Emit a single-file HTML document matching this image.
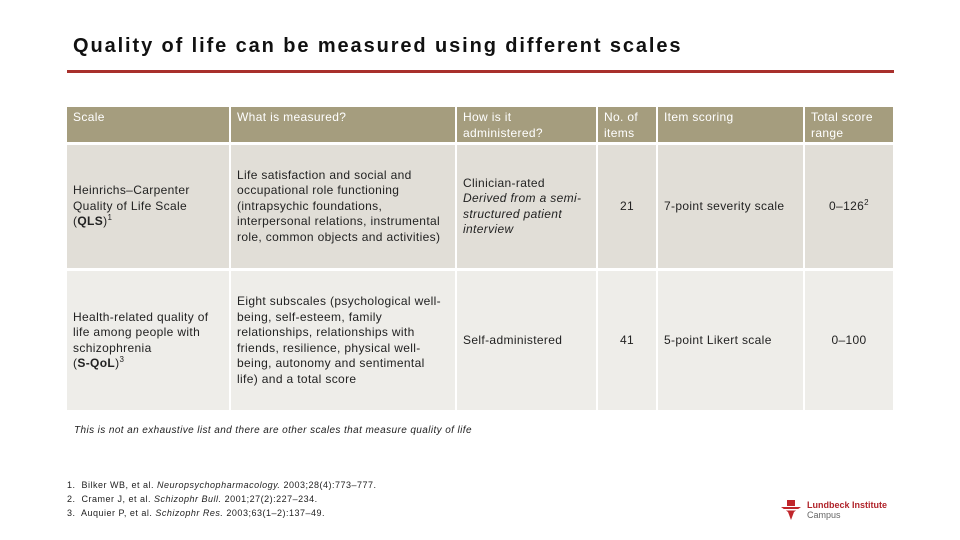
<!DOCTYPE html>
<html><head><meta charset="utf-8"><style>
body{margin:0;width:960px;height:540px;background:#fff;font-family:"Liberation Sans",sans-serif;position:relative;overflow:hidden;color:#222}
.c{position:absolute;box-sizing:border-box;padding:0 6px;font-size:12px;line-height:15.5px;display:flex;align-items:center;letter-spacing:0.35px;white-space:nowrap}
.h{background:#a59d7e;color:#fff;align-items:flex-start;padding-top:3px}
.r1{background:#e1ded7}
.r2{background:#eeede9}
.ctr{justify-content:center;text-align:center}
.fn{position:absolute;left:67px;font-size:9px;color:#222;letter-spacing:0.5px}
sup{font-size:8px;line-height:0}
</style></head><body>
<div style="position:absolute;left:73px;top:35px;font-size:20px;font-weight:bold;letter-spacing:1.9px;color:#111">Quality of life can be measured using different scales</div>
<div style="position:absolute;left:67px;top:70px;width:827px;height:3px;background:#a8302c"></div>
<div>
<div class="c h" style="left:67px;top:107px;width:162px;height:35px">Scale</div>
<div class="c h" style="left:231px;top:107px;width:224px;height:35px">What is measured?</div>
<div class="c h" style="left:457px;top:107px;width:139px;height:35px">How is it<br>administered?</div>
<div class="c h" style="left:598px;top:107px;width:58px;height:35px">No. of<br>items</div>
<div class="c h" style="left:658px;top:107px;width:145px;height:35px">Item scoring</div>
<div class="c h" style="left:805px;top:107px;width:88px;height:35px">Total score<br>range</div>

<div class="c r1" style="left:67px;top:145px;width:162px;height:123px"><div>Heinrichs–Carpenter<br>Quality of Life Scale<br>(<b>QLS</b>)<sup>1</sup></div></div>
<div class="c r1" style="left:231px;top:145px;width:224px;height:123px"><div>Life satisfaction and social and<br>occupational role functioning<br>(intrapsychic foundations,<br>interpersonal relations, instrumental<br>role, common objects and activities)</div></div>
<div class="c r1" style="left:457px;top:145px;width:139px;height:123px"><div>Clinician-rated<br><i>Derived from a semi-<br>structured patient<br>interview</i></div></div>
<div class="c r1 ctr" style="left:598px;top:145px;width:58px;height:123px">21</div>
<div class="c r1" style="left:658px;top:145px;width:145px;height:123px">7-point severity scale</div>
<div class="c r1 ctr" style="left:805px;top:145px;width:88px;height:123px"><div>0–126<sup>2</sup></div></div>

<div class="c r2" style="left:67px;top:271px;width:162px;height:139px"><div>Health-related quality of<br>life among people with<br>schizophrenia<br>(<b>S-QoL</b>)<sup>3</sup></div></div>
<div class="c r2" style="left:231px;top:271px;width:224px;height:139px"><div>Eight subscales (psychological well-<br>being, self-esteem, family<br>relationships, relationships with<br>friends, resilience, physical well-<br>being, autonomy and sentimental<br>life) and a total score</div></div>
<div class="c r2" style="left:457px;top:271px;width:139px;height:139px">Self-administered</div>
<div class="c r2 ctr" style="left:598px;top:271px;width:58px;height:139px">41</div>
<div class="c r2" style="left:658px;top:271px;width:145px;height:139px">5-point Likert scale</div>
<div class="c r2 ctr" style="left:805px;top:271px;width:88px;height:139px">0–100</div>
</div>
<div style="position:absolute;left:74px;top:425px;font-size:10px;font-style:italic;letter-spacing:0.4px">This is not an exhaustive list and there are other scales that measure quality of life</div>
<div class="fn" style="top:480px">1.&nbsp; Bilker WB, et al. <i>Neuropsychopharmacology.</i> 2003;28(4):773–777.</div>
<div class="fn" style="top:494px">2.&nbsp; Cramer J, et al. <i>Schizophr Bull.</i> 2001;27(2):227–234.</div>
<div class="fn" style="top:508px">3.&nbsp; Auquier P, et al. <i>Schizophr Res.</i> 2003;63(1–2):137–49.</div>
<div style="position:absolute;left:780px;top:499px">
<svg width="22" height="22" viewBox="0 0 22 22" style="position:absolute;left:0;top:0"><rect x="7" y="1" width="8" height="6" fill="#c0262b"/><polygon points="1,8 21,8 14,13 11,21 8,13" fill="#c0262b"/><rect x="4" y="10" width="14" height="1.5" fill="#fff"/></svg>
<div style="position:absolute;left:27px;top:1px;font-size:9px;font-weight:bold;color:#b0232a;white-space:nowrap">Lundbeck Institute</div>
<div style="position:absolute;left:27px;top:11px;font-size:9px;color:#666">Campus</div>
</div>
</body></html>
